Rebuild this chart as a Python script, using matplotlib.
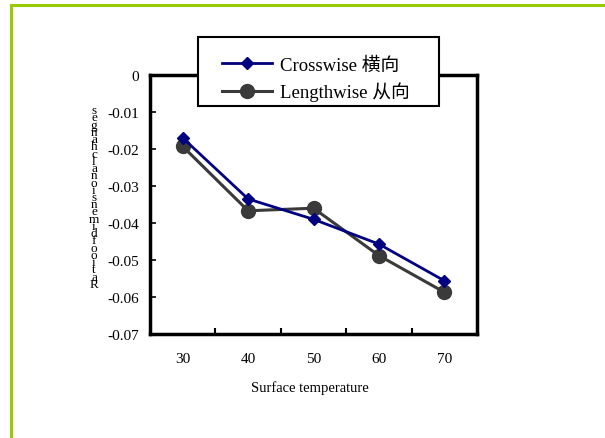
import numpy as np
import matplotlib
matplotlib.use('Agg')
from matplotlib import pyplot as plt
from matplotlib.patches import Rectangle
from matplotlib.lines import Line2D

# chart values
temps = ['30', '40', '50', '60', '70']
crosswise = [-0.017, -0.0335, -0.039, -0.0457, -0.0556]
lengthwise = [-0.0193, -0.0367, -0.036, -0.0488, -0.0587]
yticks = [0, -0.01, -0.02, -0.03, -0.04, -0.05, -0.06, -0.07]
ylabel = 'Ratio of dimensional changes'
xlabel = 'Surface temperature'
labels = ['Crosswise 横向', 'Lengthwise 从向']

serif = ['Liberation Serif', 'Noto Sans CJK SC']
plt.rcParams['font.family'] = serif

W, H = 605, 439
fig = plt.figure(figsize=(6.05, 4.39), dpi=100)

# green frame around the chart area
fig.add_artist(Line2D([10.5/W, 10.5/W], [0, 1 - 6/H], color='#99cc00', lw=2.2))
fig.add_artist(Line2D([10.5/W, 1], [1 - 6/H, 1 - 6/H], color='#99cc00', lw=2.2))

ax = fig.add_axes([150/W, 1 - 335/H, 327/W, 259/H])
x = np.arange(len(temps))
ax.plot(x, crosswise, color='#000080', lw=2, marker='D', ms=6.5, label=labels[0], zorder=4)
ax.plot(x, lengthwise, color='#3a3a3a', lw=2.2, marker='o', ms=10, label=labels[1], zorder=3)

ax.set_xlim(-0.5, len(temps) - 0.5)
ax.set_ylim(-0.07, 0)
ax.set_xticks(np.arange(len(temps) - 1) + 0.5)
ax.set_xticklabels([])
ax.set_xticks(x, minor=True)
ax.set_xticklabels(temps, minor=True, fontsize=11)
ax.tick_params(axis='x', which='major', direction='in', length=4, width=1.5)
ax.tick_params(axis='x', which='minor', length=0, pad=13)
ax.set_yticks(yticks)
ax.set_yticklabels(['0', '-0.01', '-0.02', '-0.03', '-0.04', '-0.05', '-0.06', '-0.07'], fontsize=11)
ax.tick_params(axis='y', direction='in', length=4, width=1.2, pad=8)
for s in ax.spines.values():
    s.set_linewidth(2.5)

# y label drawn as the stacked letters seen in the original
stacked = '\n'.join(reversed(ylabel.replace(' ', '')))
fig.text(94/W, 1 - 198/H, stacked, fontsize=9.5, linespacing=0.47,
         ha='center', va='center')
fig.text(310/W, 1 - 388/H, xlabel, fontsize=10.5, ha='center', va='center')

# legend box sitting over the top spine
fig.add_artist(Rectangle((198/W, 1 - 107/H), 241/W, 69/H, transform=fig.transFigure,
                         facecolor='white', edgecolor='black', lw=1.5, zorder=1))
leg = fig.legend(loc='center left', bbox_to_anchor=(222/W, 1 - 80/H),
                 frameon=False, prop={'family': serif, 'size': 13.5},
                 handlelength=2.67, borderpad=0, labelspacing=0.42,
                 handletextpad=0.43, borderaxespad=0)
leg.set_zorder(5)

fig.savefig('out.png', dpi=100, facecolor='white')
